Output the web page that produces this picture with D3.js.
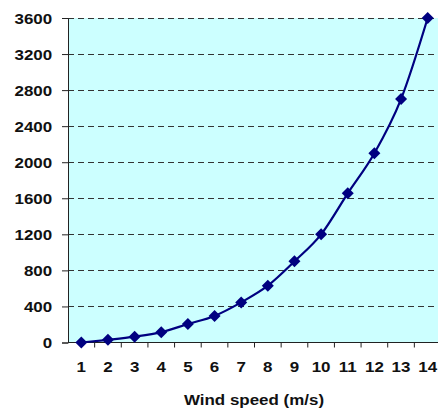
<!DOCTYPE html>
<html>
<head>
<meta charset="utf-8">
<script src="https://cdn.jsdelivr.net/npm/d3@7"></script>
<style>
    body { margin: 0; background: #fff; }
    svg text { font-family: "Liberation Sans", Arial, sans-serif; font-weight: bold; fill: #111; }
</style>
</head>
<body>
<svg width="438" height="408"></svg>
<script>
const speeds = [1, 2, 3, 4, 5, 6, 7, 8, 9, 10, 11, 12, 13, 14];
const power = [0, 30, 65, 115, 205, 295, 445, 630, 900, 1200, 1655, 2100, 2700, 3600];
const yTicks = [0, 400, 800, 1200, 1600, 2000, 2400, 2800, 3200, 3600];
const xTitle = 'Wind speed (m/s)';

const svg = d3.select('svg');
const mLeft = 68, mTop = 18, mBottom = 342.5, mRight = 441;
const stretch = 'scale(1.13,1)';

const x = d3.scaleBand().domain(speeds).range([mLeft, mRight]);
const y = d3.scaleLinear().domain([0, 3600]).range([mBottom, mTop]);

// plot background
svg.append('rect')
    .attr('x', mLeft).attr('y', mTop)
    .attr('width', mRight - mLeft).attr('height', mBottom - mTop)
    .attr('fill', '#ccffff');

// grid
svg.append('g')
    .selectAll('line')
    .data(yTicks.filter(d => d > 0))
    .enter()
    .append('line')
    .attr('x1', mLeft).attr('x2', mRight)
    .attr('y1', d => Math.round(y(d)) + 0.5)
    .attr('y2', d => Math.round(y(d)) + 0.5)
    .attr('stroke', '#333')
    .attr('stroke-dasharray', '6,4');

// y axis
const yAxis = svg.append('g')
    .attr('transform', `translate(${mLeft},0)`)
    .call(d3.axisLeft(y).tickValues(yTicks).tickFormat(d3.format('d')).tickSize(6).tickPadding(8));
yAxis.select('.domain').attr('stroke', '#222');
yAxis.selectAll('.tick line').attr('stroke', '#222');
yAxis.selectAll('text')
    .style('font-size', '15px')
    .attr('dy', '0.36em')
    .attr('transform', stretch);

// x axis
const xAxis = svg.append('g')
    .attr('transform', `translate(0,${mBottom})`)
    .call(d3.axisBottom(x).tickSize(0).tickPadding(19));
xAxis.select('.domain').attr('stroke', '#222').attr('d', `M${mLeft},0H${mRight}`);
xAxis.selectAll('text')
    .style('font-size', '15px')
    .attr('transform', stretch);
xAxis.append('g')
    .selectAll('line')
    .data(speeds.slice(1))
    .enter()
    .append('line')
    .attr('x1', d => x(d)).attr('x2', d => x(d))
    .attr('y1', 0).attr('y2', 5)
    .attr('stroke', '#222');

svg.append('g')
    .attr('transform', 'translate(254,405)')
    .append('text')
    .attr('text-anchor', 'middle')
    .attr('transform', stretch)
    .style('font-size', '15px')
    .text(xTitle);

// line
const cx = d => x(d) + x.bandwidth() / 2;
svg.append('path')
    .datum(speeds.map((s, i) => [cx(s), y(power[i])]))
    .attr('fill', 'none')
    .attr('stroke', '#000080')
    .attr('stroke-width', 2.2)
    .attr('d', d3.line().curve(d3.curveMonotoneX));

// markers
svg.append('g')
    .selectAll('path')
    .data(speeds)
    .enter()
    .append('path')
    .attr('d', d3.symbol(d3.symbolSquare, 72))
    .attr('transform', (d, i) => `translate(${cx(d)},${y(power[i])}) rotate(45)`)
    .attr('fill', '#000080');
</script>
</body>
</html>
